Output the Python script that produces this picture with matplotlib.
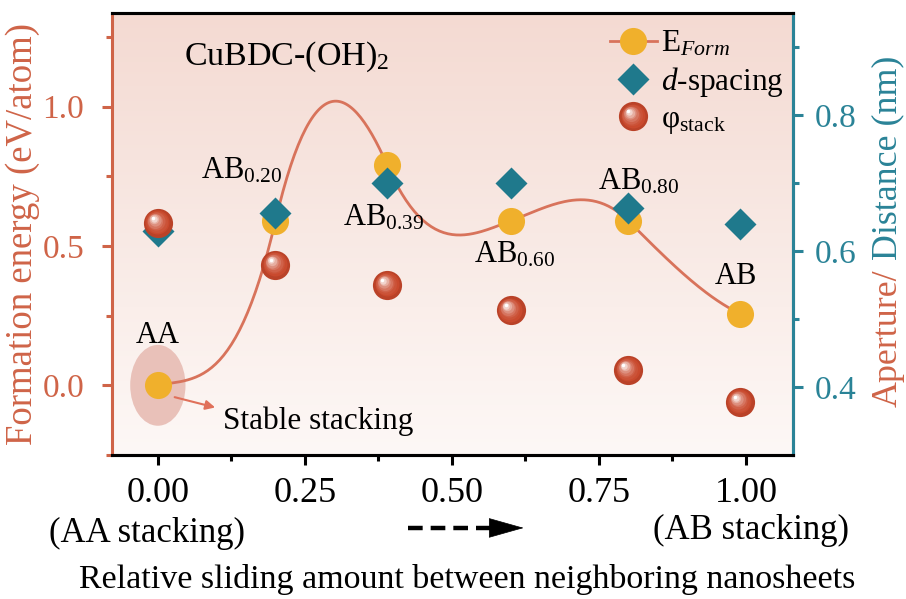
import numpy as np
import matplotlib
matplotlib.use("Agg")
import matplotlib.pyplot as plt
from matplotlib.lines import Line2D
from matplotlib.patches import Ellipse
from matplotlib.legend_handler import HandlerBase
from matplotlib.transforms import offset_copy, blended_transform_factory

plt.rcParams['font.family'] = ['Liberation Serif', 'DejaVu Serif']
plt.rcParams['mathtext.fontset'] = 'custom'
plt.rcParams['mathtext.rm'] = 'Liberation Serif'
plt.rcParams['mathtext.it'] = 'Liberation Serif:italic'

# sliding amount for each stacking
slide = [0.0, 0.20, 0.39, 0.60, 0.80, 0.99]
stack_names = ['AA', r'AB$_{0.20}$', r'AB$_{0.39}$', r'AB$_{0.60}$', r'AB$_{0.80}$', 'AB']
e_form = [0.0, 0.59, 0.79, 0.59, 0.59, 0.257]          # eV/atom
e_form_slope = [0.4, 9.0, -4.8, 0.8, -2.1, -1.0]        # curve tangents at each stacking
d_spacing = [0.629, 0.656, 0.700, 0.700, 0.663, 0.640]  # nm
phi_stack = [0.641, 0.580, 0.550, 0.513, 0.425, 0.378]  # nm
xticks = [0.0, 0.25, 0.5, 0.75, 1.0]

C_LEFT = '#cf6448'
C_RIGHT = '#2a8397'
C_LINE = '#d8735b'
C_YEL = '#f0b02c'
C_DIA = '#1f798c'
C_SPH = '#c8472b'


def hermite(x, y, m, n=60):
    # piecewise cubic through (x, y) with the given tangents
    xs, ys = [], []
    for i in range(len(x) - 1):
        h = x[i + 1] - x[i]
        t = np.linspace(0, 1, n)
        h00 = 2 * t**3 - 3 * t**2 + 1
        h10 = t**3 - 2 * t**2 + t
        h01 = -2 * t**3 + 3 * t**2
        h11 = t**3 - t**2
        xs.append(x[i] + h * t)
        ys.append(h00 * y[i] + h10 * h * m[i] + h01 * y[i + 1] + h11 * h * m[i + 1])
    return np.concatenate(xs), np.concatenate(ys)


def sphere_layers(ms):
    # concentric discs shading from the base colour to a white highlight
    base = np.array(matplotlib.colors.to_rgb(C_SPH))
    out = [(ms, 0.0, 0.0, tuple(base * 0.93))]
    n = 8
    for k in range(1, n + 1):
        f = k / n
        size = ms * (0.92 - 0.8 * f)
        dx = -ms * 0.17 * f
        dy = ms * 0.17 * f
        col = base + (np.ones(3) - base) * (f ** 2.0)
        out.append((size, dx, dy, tuple(np.clip(col, 0, 1))))
    return out


class SphereHandler(HandlerBase):
    def create_artists(self, legend, orig_handle, xdescent, ydescent,
                       width, height, fontsize, trans):
        cx = width / 2 - xdescent
        cy = height / 2 - ydescent
        arts = []
        for size, dx, dy, col in sphere_layers(orig_handle.get_markersize()):
            arts.append(Line2D([cx + dx], [cy + dy], marker='o', ms=size, ls='none',
                               mfc=col, mec='none', transform=trans))
        return arts


fig = plt.figure(figsize=(9.06, 5.99), dpi=100)
ax = fig.add_axes([0.1236, 0.2404, 0.7517, 0.7379])
ax2 = ax.twinx()

# pale pink gradient background
grad = np.linspace(0, 1, 256)[:, None]
top = np.array([244, 218, 210]) / 255
bot = np.array([253, 248, 246]) / 255
img = top[None, None, :] * (1 - grad[..., None]) + bot[None, None, :] * grad[..., None]
ax.imshow(img, extent=[0, 1, 0, 1], transform=ax.transAxes, aspect='auto', zorder=0)

ax.set_xlim(-0.078, 1.08)
ax.set_ylim(-0.243, 1.336)
ax2.set_ylim(0.30, 0.95)

# highlight around the stable AA stacking
ax.add_patch(Ellipse((0.0, 0.0), 0.094, 0.29, color='#e9c1b9', zorder=1, lw=0))

xs, ys = hermite(slide, e_form, e_form_slope)
ax.plot(xs, ys, color=C_LINE, lw=2.0, zorder=2)
ax.plot(slide, e_form, 'o', ms=19.5, color=C_YEL, mec='none', zorder=3)

ax2.plot(slide, d_spacing, 'D', ms=16.5, color=C_DIA, mec='none', zorder=4)
for size, dx, dy, col in sphere_layers(21):
    tr = offset_copy(ax2.transData, fig=fig, x=dx, y=dy, units='points')
    ax2.plot(slide, phi_stack, 'o', ms=size, mfc=col, mec='none', transform=tr, zorder=5)

# stacking labels
label_pos = [(0.0, 0.18), (0.143, 0.77), (0.383, 0.60), (0.607, 0.47), (0.817, 0.73), (0.983, 0.39)]
for name, (lx, ly) in zip(stack_names, label_pos):
    ax.text(lx, ly, name, fontsize=22, ha='center', va='center', zorder=6)

ax.text(0.219, 1.18, r'CuBDC-(OH)$_2$', fontsize=24.5, ha='center', va='center')
ax.text(0.272, -0.13, 'Stable stacking', fontsize=22.5, ha='center', va='center')
ax.annotate('', xy=(0.102, -0.082), xytext=(0.024, -0.04),
            arrowprops=dict(arrowstyle='-|>', color='#e0705a', lw=1.5, mutation_scale=14),
            zorder=6)

# axes styling
ax.set_xticks(xticks)
ax.set_xticklabels(['%.2f' % t for t in xticks])
ax.set_xticks(np.arange(0.125, 1.0, 0.25), minor=True)
ax.set_yticks([0.0, 0.5, 1.0])
ax.set_yticklabels(['0.0', '0.5', '1.0'])
ax.set_yticks([-0.25, 0.25, 0.75, 1.25], minor=True)
ax2.set_yticks([0.4, 0.6, 0.8])
ax2.set_yticklabels(['0.4', '0.6', '0.8'])
ax2.set_yticks([0.5, 0.7, 0.9], minor=True)

for a in (ax, ax2):
    for s in a.spines.values():
        s.set_linewidth(2.2)
ax.spines['top'].set_color('black')
ax.spines['bottom'].set_color('black')
ax.spines['left'].set_color(C_LEFT)
ax2.spines['left'].set_visible(False)
ax2.spines['right'].set_color(C_RIGHT)
ax2.spines['top'].set_color('black')

ax.tick_params(axis='x', which='major', direction='out', length=7, width=2.2, labelsize=26, pad=9)
ax.tick_params(axis='x', which='minor', direction='out', length=4, width=2.2)
ax.tick_params(axis='y', which='major', direction='out', length=7, width=2.2, color=C_LEFT,
               labelcolor=C_LEFT, labelsize=24, pad=13)
ax.tick_params(axis='y', which='minor', direction='out', length=4, width=2.2, color=C_LEFT)
ax2.tick_params(axis='y', which='major', direction='out', length=7, width=2.2, color=C_RIGHT,
                labelcolor=C_RIGHT, labelsize=24, pad=9)
ax2.tick_params(axis='y', which='minor', direction='out', length=4, width=2.2, color=C_RIGHT)

ax.set_ylabel('Formation energy (eV/atom)', fontsize=26.5, color=C_LEFT, labelpad=2)
ax.set_xlabel('Relative sliding amount between neighboring nanosheets', fontsize=24.5)
ax.xaxis.set_label_coords(0.521, -0.246)

xt = blended_transform_factory(ax.transData, ax.transAxes)
ax.text(-0.018, -0.177, '(AA stacking)', fontsize=25, ha='center', va='center', transform=xt)
ax.text(1.008, -0.170, '(AB stacking)', fontsize=25, ha='center', va='center', transform=xt)
# dashed shaft and solid head of the sliding-direction arrow
ax.plot([0.425, 0.566], [-0.165, -0.165], color='black', lw=3.2, ls=(0, (3.3, 1.8)),
        transform=xt, clip_on=False)
ax.annotate('', xy=(0.622, -0.165), xytext=(0.562, -0.165), xycoords=xt, textcoords=xt,
            annotation_clip=False,
            arrowprops=dict(arrowstyle='-|>,head_length=0.85,head_width=0.24', color='black',
                            lw=0.5, mutation_scale=28, shrinkA=0, shrinkB=0))

# two-coloured right axis title
t1 = fig.text(0.980, 1 - 407 / 599, 'Aperture/', fontsize=25.8, color=C_LEFT, rotation=90,
              ha='center', va='bottom')
ax2.annotate(' Distance (nm)', xy=(0.5, 1.0), xycoords=t1, fontsize=25.8, color=C_RIGHT,
             rotation=90, ha='center', va='bottom')

handles = [Line2D([], [], color=C_LINE, lw=2.0, marker='o', ms=19.5, mfc=C_YEL, mec='none'),
           Line2D([], [], ls='none', marker='D', ms=16.5, color=C_DIA, mec='none'),
           Line2D([], [], ls='none', marker='o', ms=21, color=C_SPH)]
labels = [r'E$_{Form}$', r'$d$-spacing', r'φ$_{\mathrm{stack}}$']
leg = ax.legend(handles, labels, loc='upper left', bbox_to_anchor=(0.731, 0.963), frameon=False,
                fontsize=22.5, handlelength=1.5, handletextpad=0.15, labelspacing=0.2,
                borderpad=0, borderaxespad=0,
                handler_map={handles[2]: SphereHandler()})

fig.savefig('out.png', dpi=100)
